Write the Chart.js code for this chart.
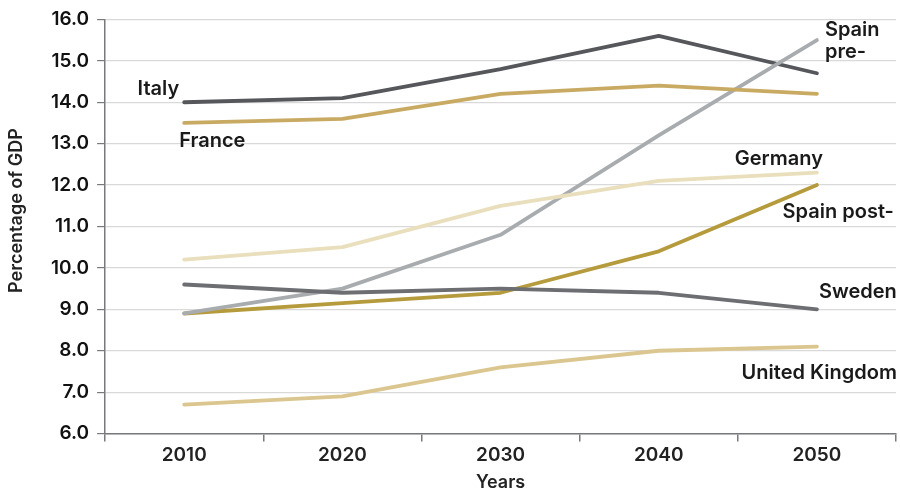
<!DOCTYPE html>
<html><head><meta charset="utf-8">
<script src="https://cdn.jsdelivr.net/npm/chart.js@4.4.0/dist/chart.umd.min.js"></script>
<style>html,body{margin:0;padding:0;background:#fff}#wrap{width:900px;height:493px}</style>
</head><body><div id="wrap"><canvas id="c"></canvas></div>
<script>
const years = ['2010','2020','2030','2040','2050'];
const italy = [14.0, 14.1, 14.8, 15.6, 14.7];
const france = [13.5, 13.6, 14.2, 14.4, 14.2];
const spainPre = [8.9, 9.5, 10.8, 13.2, 15.5];
const germany = [10.2, 10.5, 11.5, 12.1, 12.3];
const spainPost = [8.9, 9.15, 9.4, 10.4, 12.0];
const sweden = [9.6, 9.4, 9.5, 9.4, 9.0];
const uk = [6.7, 6.9, 7.6, 8.0, 8.1];

const FONT = 'Inter, "Liberation Sans", sans-serif';
function ds(label, data, color, lbl){
  return {label, data, borderColor: color, backgroundColor: color, borderWidth: 3.8,
    pointRadius: 0, tension: 0, borderCapStyle: 'round', borderJoinStyle: 'round', fill: false, lbl};
}
const datasets = [
  ds('Sweden', sweden, '#6c6e72', {idx:4, dx:2, dy:-17, align:'left', lines:['Sweden']}),
  ds('United Kingdom', uk, '#dbc68f', {idx:4, dx:80, dy:26, align:'right', lines:['United Kingdom']}),
  ds('Germany', germany, '#e9dfbd', {idx:4, dx:6, dy:-14, align:'right', lines:['Germany']}),
  ds('France', france, '#c9aa63', {idx:0, dx:-5, dy:18, align:'left', lines:['France']}),
  ds('Spain pre-', spainPre, '#a9acaf', {idx:4, dx:8, dy:-10, align:'left', lines:['Spain','pre-']}),
  ds('Spain post-', spainPost, '#b59b3c', {idx:4, dx:77, dy:27, align:'right', lines:['Spain post-']}),
  ds('Italy', italy, '#55575b', {idx:0, dx:-5, dy:-13, align:'right', lines:['Italy']}),
];

const labelPlugin = {
  id:'lbls',
  afterDatasetsDraw(chart){
    const ctx = chart.ctx;
    ctx.save();
    ctx.font = '600 20px ' + FONT;
    ctx.fillStyle = '#1a1a1a';
    ctx.textBaseline = 'middle';
    chart.data.datasets.forEach((d,i)=>{
      const l = d.lbl; if(!l) return;
      const pt = chart.getDatasetMeta(i).data[l.idx];
      ctx.textAlign = l.align;
      l.lines.forEach((t,k)=>{
        ctx.fillText(t, pt.x + l.dx, pt.y + l.dy + k*22);
      });
    });
    // y-axis title
    const ca = chart.chartArea;
    ctx.font = '600 18px ' + FONT;
    ctx.translate(17, (ca.top + ca.bottom)/2 - 16);
    ctx.rotate(-Math.PI/2);
    ctx.textAlign = 'center';
    ctx.fillStyle = '#222';
    ctx.fillText('Percentage of GDP', 0, 0);
    ctx.restore();
  }
};

new Chart(document.getElementById('c'), {
  type:'line',
  data:{labels: years, datasets},
  options:{
    responsive:true, maintainAspectRatio:false, animation:false,
    layout:{padding:{top:14, right:4, left:43, bottom:0}},
    plugins:{legend:{display:false}, tooltip:{enabled:false}},
    scales:{
      x:{
        offset:true,
        grid:{offset:true, drawOnChartArea:false, tickLength:8, color:'#77797d', tickColor:'#77797d', lineWidth:1.5},
        border:{color:'#77797d', width:1.5},
        ticks:{color:'#222', font:{family:FONT, size:19, weight:'600'}, padding:2},
        title:{display:true, text:'Years', color:'#222', font:{family:FONT, size:18, weight:'600'}, padding:{top:3,bottom:0}}
      },
      y:{
        min:6, max:16,
        ticks:{stepSize:1, color:'#111', font:{family:FONT, size:19, weight:'600'}, padding:8,
          callback:(v)=>Number(v).toFixed(1)},
        grid:{color:'#d9d9d9', tickColor:'#77797d', tickLength:8, lineWidth:1.2},
        border:{color:'#77797d', width:1.5}
      }
    }
  },
  plugins:[labelPlugin]
});
</script></body></html>
